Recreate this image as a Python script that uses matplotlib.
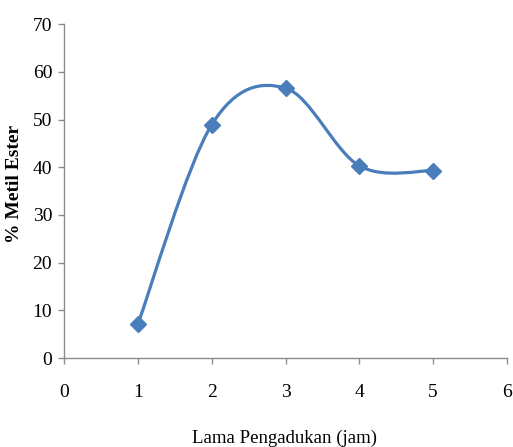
import numpy as np
import matplotlib
matplotlib.use("Agg")
import matplotlib.pyplot as plt
from matplotlib.path import Path
from matplotlib.patches import PathPatch

# Stirring time (hours) vs methyl ester yield (%)
lama_jam = [1, 2, 3, 4, 5]
metil_ester = [7.1, 48.9, 56.6, 40.3, 39.3]
x_ticks = [0, 1, 2, 3, 4, 5, 6]
y_ticks = [0, 10, 20, 30, 40, 50, 60, 70]

BLUE = "#4A7EBB"
AXIS_GRAY = "#8C8C8C"
SERIF = ["Liberation Serif", "DejaVu Serif"]


def smooth_path(xs, ys):
    """Cardinal (Catmull-Rom style) Bezier spline through the points."""
    pts = np.column_stack([xs, ys]).astype(float)
    n = len(pts)
    verts = [pts[0]]
    codes = [Path.MOVETO]
    for i in range(n - 1):
        p0 = pts[i - 1] if i > 0 else pts[i]
        p1 = pts[i]
        p2 = pts[i + 1]
        p3 = pts[i + 2] if i + 2 < n else pts[i + 1]
        c1 = p1 + (p2 - p0) / 6.0
        c2 = p2 - (p3 - p1) / 6.0
        verts += [c1, c2, p2]
        codes += [Path.CURVE4] * 3
    return Path(verts, codes)


fig = plt.figure(figsize=(5.13, 4.47), dpi=100)
ax = fig.add_axes([0.1248, 0.199, 0.8635, 0.747])

curve = PathPatch(smooth_path(lama_jam, metil_ester), facecolor="none",
                  edgecolor=BLUE, linewidth=2.3, capstyle="round", zorder=2)
ax.add_patch(curve)
ax.plot(lama_jam, metil_ester, linestyle="none", marker="D", markersize=8.5,
        color=BLUE, zorder=3)

ax.set_xlim(0, 6)
ax.set_ylim(0, 70)
ax.set_xticks(x_ticks)
ax.set_yticks(y_ticks)

for side in ("top", "right"):
    ax.spines[side].set_visible(False)
for side in ("left", "bottom"):
    ax.spines[side].set_color(AXIS_GRAY)
    ax.spines[side].set_linewidth(1.0)

ax.tick_params(axis="both", direction="out", length=4.5, width=1.0,
               color=AXIS_GRAY, labelcolor="black")
ax.tick_params(axis="x", pad=14)
ax.tick_params(axis="y", pad=4)
for lbl in ax.get_xticklabels() + ax.get_yticklabels():
    lbl.set_fontfamily(SERIF)
    lbl.set_fontsize(14)

fig.text(285 / 513, 1 - 438 / 447, "Lama Pengadukan (jam)", family=SERIF,
         fontsize=13.5, ha="center", va="center")
fig.text(15 / 513, 1 - 184 / 447, "% Metil Ester", family=SERIF,
         fontsize=14, fontweight="bold", rotation=90,
         ha="center", va="center")

fig.savefig("out.png", dpi=100, facecolor="white")
